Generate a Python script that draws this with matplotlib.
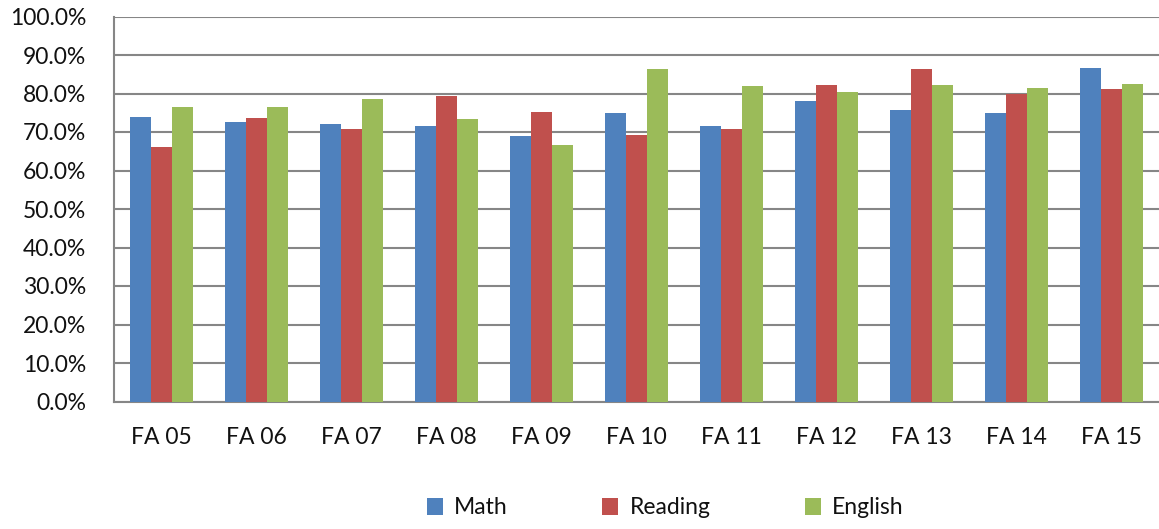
import matplotlib
matplotlib.use("Agg")
import matplotlib.pyplot as plt
import numpy as np
from matplotlib.ticker import FuncFormatter, MultipleLocator

categories = ["FA 05", "FA 06", "FA 07", "FA 08", "FA 09", "FA 10",
              "FA 11", "FA 12", "FA 13", "FA 14", "FA 15"]
math = [73.9, 72.6, 72.0, 71.5, 69.0, 75.0, 71.6, 78.0, 75.7, 75.0, 86.6]
reading = [66.2, 73.6, 70.9, 79.4, 75.3, 69.2, 70.7, 82.2, 86.3, 79.9, 81.2]
english = [76.4, 76.4, 78.7, 73.5, 66.5, 86.4, 82.0, 80.3, 82.3, 81.4, 82.4]

series = [("Math", math, "#4F81BD"),
          ("Reading", reading, "#C0504D"),
          ("English", english, "#9BBB59")]

plt.rcParams["font.family"] = ["Lato", "DejaVu Sans"]

fig = plt.figure(figsize=(11.59, 5.29), dpi=100)
ax = fig.add_axes([114 / 1159, 1 - 401.5 / 529, (1159 - 114) / 1159, (401.5 - 16.5) / 529])

x = np.arange(len(categories))
width = 0.22
for i, (name, vals, color) in enumerate(series):
    ax.bar(x + (i - 1) * width, vals, width, color=color, label=name,
           edgecolor="none", zorder=3)

ax.set_ylim(0, 100)
ax.set_xlim(-0.5, len(categories) - 0.5)
ax.yaxis.set_major_locator(MultipleLocator(10))
ax.yaxis.set_major_formatter(FuncFormatter(lambda v, _: f"{v:.1f}%"))
ax.grid(axis="y", color="#868686", linewidth=1.5, zorder=0)
ax.set_xticks(x)
ax.set_xticklabels(categories)

for s in ["top", "right"]:
    ax.spines[s].set_visible(False)
ax.spines["left"].set_color("#868686")
ax.spines["left"].set_linewidth(1.5)
ax.spines["bottom"].set_color("#868686")
ax.spines["bottom"].set_linewidth(1.5)
ax.tick_params(axis="y", length=0, labelsize=16.5, pad=20, labelcolor="#111111")
ax.tick_params(axis="x", length=0, labelsize=16.5, pad=18, labelcolor="#111111")

fig.legend(loc="center", bbox_to_anchor=(0.574, 1 - 508 / 529), ncol=3,
           frameon=False, fontsize=16.5, handlelength=0.7, handleheight=0.7,
           columnspacing=4.1, handletextpad=0.5, labelcolor="#111111")

fig.savefig("out.png", dpi=100)
